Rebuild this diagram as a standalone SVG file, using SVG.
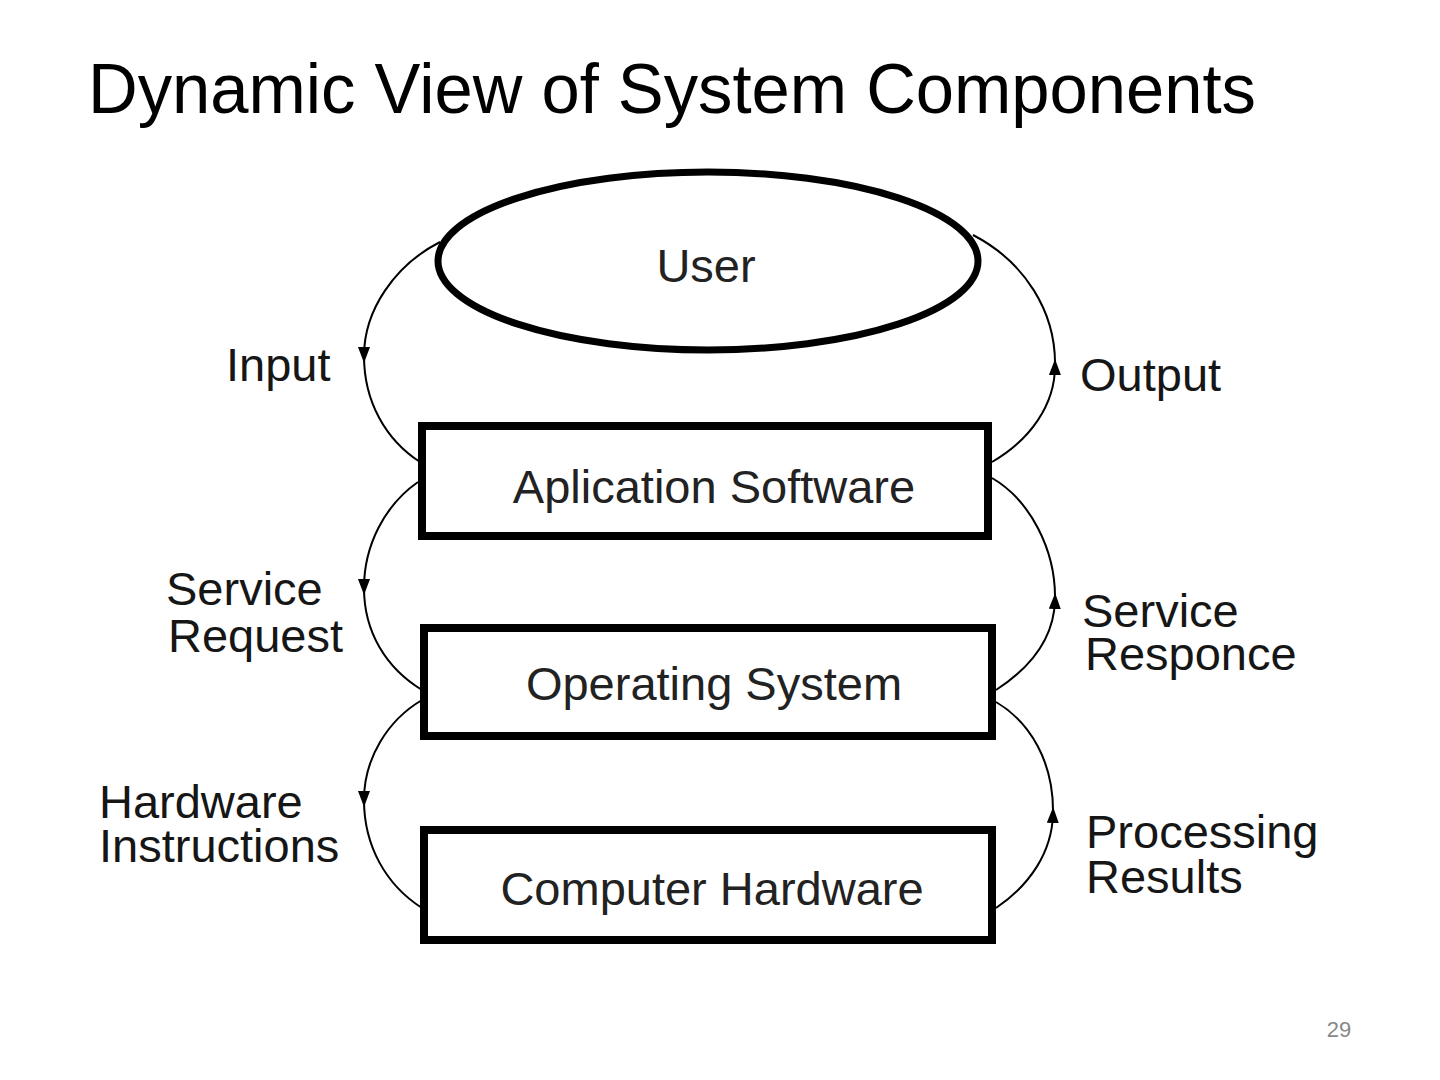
<svg xmlns="http://www.w3.org/2000/svg" width="1440" height="1080" viewBox="0 0 1440 1080">
<defs>
<style>
.box{fill:#fff;stroke:#000;stroke-width:8}
.lbl{font-family:"Liberation Sans",Arial,sans-serif;font-size:47px;fill:#161616}
.nd{font-family:"Liberation Sans",Arial,sans-serif;font-size:47px;fill:#222;text-anchor:middle}
.arc{fill:none;stroke:#000;stroke-width:2;marker-mid:url(#ah)}
</style>
<marker id="ah" markerUnits="userSpaceOnUse" markerWidth="16" markerHeight="12" viewBox="0 0 16 12" refX="9" refY="6" orient="auto">
<path d="M0,0 L16,6 L0,12 Z" fill="#000"/>
</marker>
</defs>
<rect width="1440" height="1080" fill="#fff"/>
<text x="88" y="113" font-family="'Liberation Sans',Arial,sans-serif" font-size="70" textLength="1168" lengthAdjust="spacingAndGlyphs" fill="#000">Dynamic View of System Components</text>
<text x="1339" y="1037" font-family="'Liberation Sans',Arial,sans-serif" font-size="22" fill="#888" text-anchor="middle">29</text>

<g id="connectors">
<path class="arc" d="M440 242 C395 265 364 310 364 356 C364 402 386 440 420 462"/>
<path class="arc" d="M992 462 C1030 440 1055 405 1055 366 C1056 312 1025 262 973 235"/>
<path class="arc" d="M418 482 C385 505 364 545 364 588 C364 632 386 668 422 690"/>
<path class="arc" d="M996 690 C1030 668 1054 640 1055 600 C1056 550 1030 500 992 478"/>
<path class="arc" d="M422 700 C388 720 364 758 364 800 C364 846 386 885 422 908"/>
<path class="arc" d="M996 908 C1030 885 1052 852 1053 814 C1054 762 1030 722 996 702"/>
</g>

<g id="user">
<ellipse cx="708" cy="261" rx="270" ry="89" fill="#fff" stroke="#000" stroke-width="7"/>
<text class="nd" x="706" y="282">User</text>
</g>
<g id="app">
<rect class="box" x="422" y="426" width="566" height="110"/>
<text class="nd" x="714" y="503">Aplication Software</text>
</g>
<g id="os">
<rect class="box" x="424" y="628" width="568" height="108"/>
<text class="nd" x="714" y="700">Operating System</text>
</g>
<g id="hw">
<rect class="box" x="424" y="830" width="568" height="110"/>
<text class="nd" x="712" y="905">Computer Hardware</text>
</g>

<g id="labels">
<text class="lbl" x="226" y="381">Input</text>
<text class="lbl" x="166" y="605">Service</text>
<text class="lbl" x="168" y="652">Request</text>
<text class="lbl" x="99" y="818">Hardware</text>
<text class="lbl" x="99" y="862">Instructions</text>
<text class="lbl" x="1080" y="391">Output</text>
<text class="lbl" x="1082" y="627">Service</text>
<text class="lbl" x="1085" y="670">Responce</text>
<text class="lbl" x="1086" y="848">Processing</text>
<text class="lbl" x="1086" y="893">Results</text>
</g>
</svg>
